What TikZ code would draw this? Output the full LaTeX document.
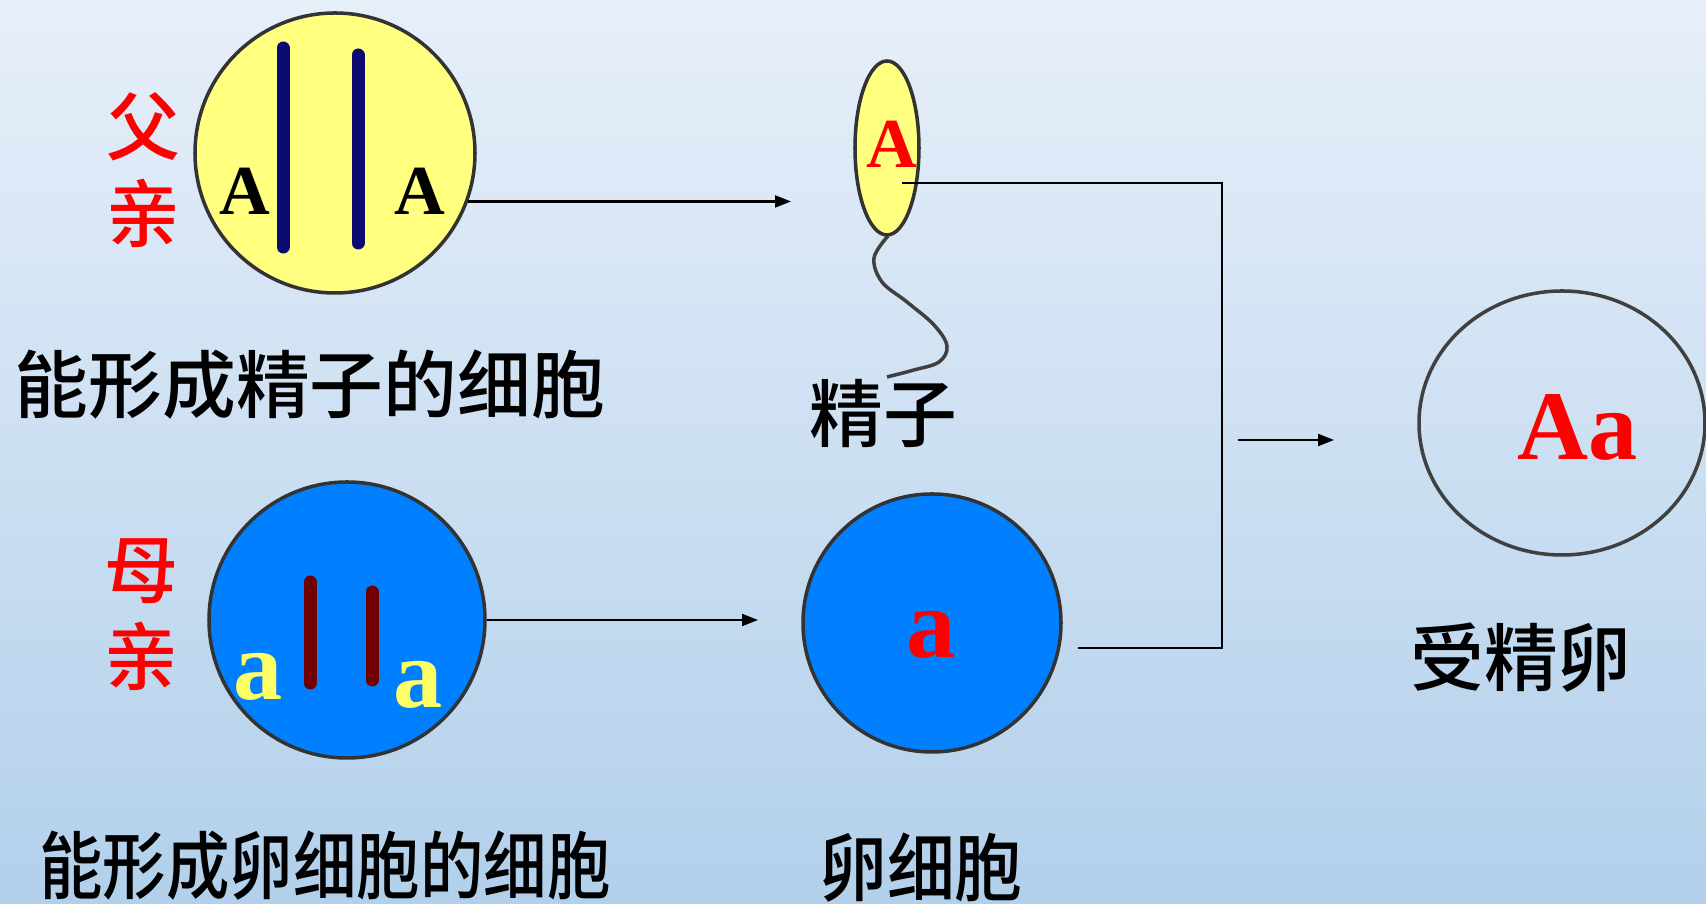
\documentclass[tikz,border=0pt]{standalone}
\usepackage{fontspec}
\setmainfont{Liberation Serif}
\newfontfamily\cjk{Noto Sans CJK SC Medium}
\usetikzlibrary{arrows.meta, positioning, shapes.geometric}
\definecolor{bgtop}{RGB}{231, 239, 249}
\definecolor{bgbottom}{RGB}{178, 208, 235}
\definecolor{cellyellow}{RGB}{255, 255, 128}
\definecolor{cellblue}{RGB}{0, 128, 255}
\definecolor{chromblue}{RGB}{12, 12, 112}
\definecolor{chromred}{RGB}{112, 0, 0}
\definecolor{allelered}{RGB}{255, 0, 0}
\definecolor{alleleyellow}{RGB}{255, 255, 102}

\begin{document}
\begin{tikzpicture}[x=0.1mm, y=-0.1mm,
  cell/.style={circle, draw=black!80, line width=1pt, inner sep=0pt},
  chrom/.style={line width=1.3mm, line cap=round},
  link/.style={line width=0.6pt, black},
  tip/.style={-{Triangle[length=1.6mm, width=1.2mm]}},
  hanzi/.style={font=\cjk\fontsize{21pt}{24.7pt}\selectfont, align=center},
  allele/.style={anchor=base, inner sep=0pt, font=\bfseries\fontsize{20pt}{24pt}\selectfont},
  bigallele/.style={allele, font=\bfseries\fontsize{28pt}{32pt}\selectfont}]
\useasboundingbox (0,0) rectangle (1706,904);
\shade[top color=bgtop, bottom color=bgbottom] (0,0) rectangle (1706,904);

% father: cell that forms sperm
\node[cell, fill=cellyellow, minimum size=28mm] (dadcell) at (335,153) {};
\draw[chrom, chromblue] (283,48) -- (283,247);
\draw[chrom, chromblue] (358,55) -- (358,243);
\node[allele] (dadA1) at (245,215) {A};
\node[allele] (dadA2) at (420,215) {A};
\node[hanzi, text=allelered] (dadname) at (143,170) {父\\亲};
\node[hanzi] (dadtext) at (310,385) {能形成精子的细胞};

% mother: cell that forms the egg
\node[cell, fill=cellblue, minimum size=27.6mm] (momcell) at (347,620) {};
\draw[chrom, chromred] (310,582) -- (310,683);
\draw[chrom, chromred] (372,592) -- (372,680);
\node[bigallele, text=alleleyellow] (moma1) at (258,700) {a};
\node[bigallele, text=alleleyellow] (moma2) at (418,708) {a};
\node[hanzi, text=allelered] (momname) at (141,615) {母\\亲};
\node[hanzi, transform shape, xscale=0.86] (momtext) at (325,866) {能形成卵细胞的细胞};

% sperm
\draw[black!75, line width=1pt] plot[smooth, tension=0.6] coordinates
  {(888,236) (874,258) (882,282) (907,302) (934,325) (947,346) (939,362) (914,370) (887,377)};
\node[ellipse, draw=black!80, line width=1pt, fill=cellyellow, inner sep=0pt,
  minimum width=6.4mm, minimum height=17.4mm] (sperm) at (887,148) {};
\node[allele, text=allelered] (spermA) at (892,168) {A};
\node[hanzi] (spermtext) at (883,414) {精子};

% egg
\node[cell, fill=cellblue, minimum size=25.8mm] (egg) at (932,623) {};
\node[bigallele, text=allelered] (egga) at (931,658) {a};
\node[hanzi, transform shape, xscale=0.92] (eggtext) at (921,868) {卵细胞};

% fertilised egg
\node[ellipse, draw=black!75, line width=1pt, inner sep=0pt,
  minimum width=28.6mm, minimum height=26.4mm] (zygote) at (1562,423) {};
\node[bigallele, text=allelered] (zygoteAa) at (1578,460) {Aa};
\node[hanzi] (zygotetext) at (1521,658) {受精卵};

% connectors
\coordinate (spermin) at (791,200);
\coordinate (eggin) at (758,620);
\coordinate (spermout) at (902,183);
\coordinate (eggout) at (1078,648);
\coordinate (jtop) at (1222,183);
\coordinate (jbot) at (1222,648);
\coordinate (zstart) at (1238,440);
\coordinate (zend) at (1334,440);
\draw[link, tip] (dadcell.-20) -- (dadcell.-20 -| spermin);
\draw[link, tip] (momcell.east) -- (eggin);
\draw[link] (spermout) -- (jtop) -- (jbot) -- (eggout);
\draw[link, tip] (zstart) -- (zend);
\end{tikzpicture}
\end{document}
